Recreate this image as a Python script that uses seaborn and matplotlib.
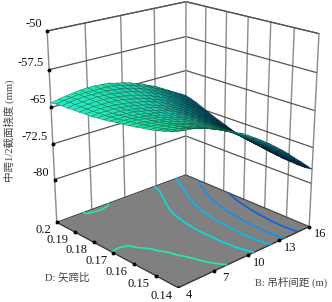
import numpy as np, matplotlib
matplotlib.use('Agg')
import matplotlib.pyplot as plt
import seaborn as sns
from matplotlib.colors import Normalize
from mpl_toolkits.mplot3d import proj3d

B_ticks = [4, 7, 10, 13, 16]
D_ticks = [0.14, 0.15, 0.16, 0.17, 0.18, 0.19, 0.2]
D_labels = ['0.14', '0.15', '0.16', '0.17', '0.18', '0.19', '0.2']
Z_ticks = [-50, -57.5, -65, -72.5, -80]
Z_labels = ['-50', '-57.5', '-65', '-72.5', '-80']
B_grid = [4, 4.6, 5.2, 5.8, 6.4, 7, 7.6, 8.2, 8.8, 9.4, 10, 10.6, 11.2, 11.8, 12.4, 13, 13.6, 14.2, 14.8, 15.4, 16]
D_grid = [0.14, 0.143, 0.146, 0.149, 0.152, 0.155, 0.158, 0.161, 0.164, 0.167, 0.17,
          0.173, 0.176, 0.179, 0.182, 0.185, 0.188, 0.191, 0.194, 0.197, 0.2]
# downward deflection in tenths of a millimetre: rows follow D_grid, columns follow B_grid
deflection_tenths = [
 [602,604,606,610,614,620,626,632,640,647,656,665,675,685,696,707,719,732,744,757,770],
 [607,609,611,615,619,624,630,636,643,651,659,668,677,688,698,710,721,734,746,759,772],
 [611,613,615,618,622,627,633,639,646,653,661,670,679,689,700,711,722,734,747,759,772],
 [615,616,618,621,625,629,635,641,647,654,662,671,680,690,700,711,722,734,746,759,771],
 [618,619,620,623,627,631,636,642,648,655,663,671,680,690,700,710,722,733,746,758,770],
 [620,621,623,625,629,633,638,643,649,656,663,671,680,689,699,710,721,732,744,756,768],
 [623,623,625,627,630,634,639,644,650,656,663,671,679,689,698,709,720,731,743,754,766],
 [625,625,627,629,632,635,639,644,650,656,663,671,679,688,697,707,718,729,741,752,764],
 [627,627,628,630,633,636,640,645,650,656,663,670,678,687,696,706,717,727,739,750,761],
 [629,629,630,632,634,637,641,645,650,656,662,669,677,686,695,704,715,725,736,747,758],
 [631,631,631,633,635,638,641,645,650,655,661,668,676,684,693,702,712,723,734,745,755],
 [633,632,633,634,635,638,641,645,649,654,660,667,674,682,691,700,710,720,731,741,752],
 [634,634,634,634,636,638,641,644,648,653,659,665,672,680,688,697,707,717,727,738,748],
 [636,634,634,634,636,637,640,643,647,652,657,663,670,677,685,694,703,713,723,733,743],
 [636,635,634,634,635,637,639,642,645,649,654,660,667,674,682,690,699,709,719,729,738],
 [637,635,634,634,634,635,637,640,643,647,652,657,663,670,678,686,695,704,714,723,733],
 [637,635,634,633,633,634,636,638,641,644,649,654,660,666,674,682,690,699,708,718,727],
 [638,635,634,633,632,633,634,636,638,641,646,650,656,662,670,677,685,694,703,712,721],
 [638,635,633,632,632,632,632,634,636,639,643,647,653,659,665,673,681,689,698,706,715],
 [639,636,634,632,632,632,632,632,634,637,640,645,650,655,662,669,677,685,693,702,710],
 [641,638,635,633,631,630,630,631,632,636,639,643,648,653,660,666,674,682,690,698,706],
]
contour_levels = [-74.56, -71.7, -69.22, -66.48, -63.15]
contour_colors = ['#1060e8', '#1090f0', '#00c0f0', '#00e0e0', '#20e8b8']
surface_colors = ['#001a60', '#005a90', '#00a0b0', '#28ecc8', '#10e890']
Z_MIN, Z_MAX = -89.3, -50

sns.set_theme(style='white')
plt.rcParams['font.family'] = ['Liberation Serif', 'Noto Sans CJK SC', 'DejaVu Sans']

fig = plt.figure(figsize=(3.32, 3.02), dpi=100, facecolor='white')
ax = fig.add_axes([12.3 / 332, 15 / 302, 1, 1], projection='3d')
ax.set_xlim(4, 16, view_margin=0)
ax.set_ylim(0.14, 0.2, view_margin=0)
ax.set_zlim(Z_MIN, Z_MAX, view_margin=0)
ax.view_init(20.53, -133.05)
ax.set_proj_type('persp', focal_length=0.594)
ax.set_box_aspect((1.161, 1.171, 1.29), zoom=1.069)
ax.set_axis_off()
ax.computed_zorder = False
fig.canvas.draw()
M = ax.get_proj()

Bx, Dy = np.meshgrid(B_grid, D_grid)
Z = -np.array(deflection_tenths, dtype=float) / 10

fx, fy = np.meshgrid([4, 16], [0.14, 0.2])
ax.plot_surface(fx, fy, np.full_like(fx, Z_MIN, dtype=float), color='#808080', shade=False,
                linewidth=0, zorder=1)

H, VV = '#555555', '#8a8a8a'
for b in B_ticks[1:-1]:
    ax.plot([b, b], [0.2, 0.2], [Z_MIN, Z_MAX], color=VV, lw=1.0, zorder=2)
for d in D_ticks[1:-1]:
    ax.plot([16, 16], [d, d], [Z_MIN, Z_MAX], color=VV, lw=1.0, zorder=2)
for z in Z_ticks:
    ax.plot([4, 16, 16], [0.2, 0.2, 0.14], [z, z, z], color=H, lw=0.9, zorder=2)
ax.plot([4, 16, 16], [0.2, 0.2, 0.14], [Z_MAX] * 3, color=H, lw=0.9, zorder=2)
for b, d in [(4, 0.2), (16, 0.2), (16, 0.14)]:
    ax.plot([b, b], [d, d], [Z_MIN, Z_MAX], color=VV, lw=1.0, zorder=2)
ax.plot([4, 4, 16], [0.2, 0.14, 0.14], [Z_MIN] * 3, color='#333333', lw=0.9, zorder=2)
ax.plot([4, 16, 16], [0.2, 0.2, 0.14], [Z_MIN] * 3, color='#444444', lw=0.9, zorder=2)

ax.contour(Bx, Dy, Z, levels=contour_levels, colors=contour_colors, offset=Z_MIN, zdir='z',
           linewidths=1.2, zorder=3)

cmap = sns.blend_palette(surface_colors, as_cmap=True)
norm = Normalize(-78, -60)
u_axis = (np.array(B_grid) - 4) / 12
v_axis = (np.array(D_grid) - 0.14) / 0.06
dzdv, dzdu = np.gradient(Z / 39.3, v_axis, u_axis)
n = np.stack([-dzdu, -dzdv, np.ones_like(Z)], -1)
n /= np.linalg.norm(n, axis=-1, keepdims=True)
light = np.array([-0.55, 0.1, 0.83])
shade = np.clip(0.35 + 0.75 * np.clip(n @ light, 0, 1), 0, 1)[..., None]
fc = cmap(norm(Z))
fc[..., :3] = fc[..., :3] * shade
surf = ax.plot_surface(Bx, Dy, Z, facecolors=fc, shade=False, edgecolor='black', linewidth=0.3,
                       antialiased=True, zorder=4)
ec = fc[:-1, :-1].reshape(-1, 4).copy()
ec[:, :3] *= 0.45
surf.set_edgecolor(ec)

def put(b, d, z, label, dx, dy, ha='center'):
    x2, y2, _ = proj3d.proj_transform(b, d, z, M)
    ax.plot([b], [d], [z], 'o', color='black', ms=1.8, zorder=6)
    ax.annotate(label, (x2, y2), xytext=(dx, dy), textcoords='offset pixels', ha=ha,
                va='center', fontsize=9, color='#111111', annotation_clip=False)

for z, t in zip(Z_ticks, Z_labels):
    put(4, 0.2, z, t, -5, 7, ha='right')
for d, t in zip(D_ticks, D_labels):
    put(4, d, Z_MIN, t, -17 if d != 0.2 else -13, -8)
for b in B_ticks:
    put(b, 0.14, Z_MIN, str(b), 11, -7.5)

fig.text(9 / 332, 1 - 131 / 302, '中跨1/2截面挠度 (mm)', rotation=90, ha='center', va='center',
         fontsize=7.6, color='#444444')
fig.text(67 / 332, 1 - 278 / 302, 'D: 矢跨比', ha='center', va='center', fontsize=7.6, color='#444444')
fig.text(291 / 332, 1 - 282 / 302, 'B: 吊杆间距 (m)', ha='center', va='center', fontsize=7.6, color='#444444')

fig.savefig('out.png', dpi=100, facecolor='white')
